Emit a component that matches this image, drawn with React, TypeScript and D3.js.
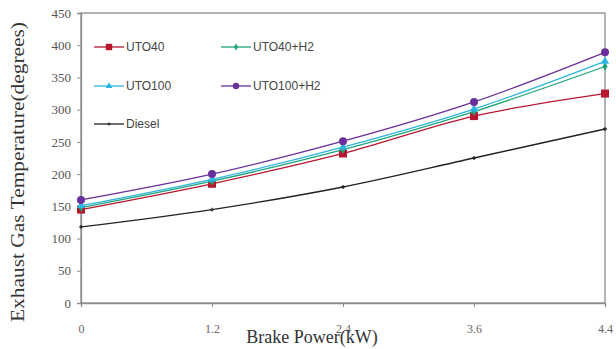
import { useEffect, useRef } from 'react';
import * as d3 from 'd3';

const categories = ['0', '1.2', '2.4', '3.6', '4.4'];
const yTicks = [0, 50, 100, 150, 200, 250, 300, 350, 400, 450];

const uto40 = [145, 185, 232, 290, 325];
const uto40h2 = [148, 189, 238, 297, 367];
const uto100 = [151, 192, 242, 301, 375];
const uto100h2 = [160, 200, 251, 312, 389];
const diesel = [118, 145, 180, 225, 270];

const series = [
  { name: 'UTO40', values: uto40, color: '#b8162e', marker: 'square' },
  { name: 'UTO40+H2', values: uto40h2, color: '#1fa37c', marker: 'diamond' },
  { name: 'UTO100', values: uto100, color: '#2cb5df', marker: 'triangle' },
  { name: 'UTO100+H2', values: uto100h2, color: '#6a2f9a', marker: 'circle' },
  { name: 'Diesel', values: diesel, color: '#222222', marker: 'cross' },
];

const W = 616;
const H = 349;

export default function App() {
  const svgRef = useRef<SVGSVGElement>(null);

  useEffect(() => {
    const svg = d3.select(svgRef.current);
    svg.selectAll('*').remove();

    const margin = { top: 13, right: 11, bottom: 46, left: 81 };
    const cw = W - margin.left - margin.right;
    const ch = H - margin.top - margin.bottom;

    svg.append('rect').attr('width', W).attr('height', H).attr('fill', '#fff');

    const g = svg.append('g').attr('transform', `translate(${margin.left},${margin.top})`);

    const x = d3.scalePoint<string>().domain(categories).range([0, cw]);
    const y = d3.scaleLinear().domain([0, 450]).range([ch, 0]);

    // frame
    g.append('rect')
      .attr('x', 0).attr('y', 0).attr('width', cw).attr('height', ch)
      .attr('fill', 'none').attr('stroke', '#8c8c8c').attr('stroke-width', 1.3);

    // y axis
    const yAxis = g.append('g').call(
      d3.axisLeft(y).tickValues(yTicks).tickSize(4).tickPadding(6)
    );
    yAxis.select('.domain').attr('stroke', '#8c8c8c').attr('stroke-width', 1.3);
    yAxis.selectAll('line').attr('stroke', '#8c8c8c');
    yAxis.selectAll('text')
      .attr('font-family', '"Liberation Serif", "Times New Roman", serif')
      .attr('font-size', 13).attr('fill', '#555');

    // x axis
    const xAxis = g.append('g').attr('transform', `translate(0,${ch})`).call(
      d3.axisBottom(x).tickSize(4).tickPadding(17)
    );
    xAxis.select('.domain').attr('stroke', '#8c8c8c').attr('stroke-width', 1.3);
    xAxis.selectAll('line').attr('stroke', '#8c8c8c');
    xAxis.selectAll('text')
      .attr('font-family', '"Liberation Serif", "Times New Roman", serif')
      .attr('font-size', 12).attr('fill', '#666');

    // axis titles
    svg.append('text')
      .attr('x', 312).attr('y', 343)
      .attr('text-anchor', 'middle')
      .attr('font-family', '"Liberation Serif", "Times New Roman", serif')
      .attr('font-size', 18).attr('fill', '#333')
      .text('Brake Power(kW)');

    svg.append('text')
      .attr('transform', `translate(24,${172}) rotate(-90)`)
      .attr('text-anchor', 'middle')
      .attr('font-family', '"Liberation Serif", "Times New Roman", serif')
      .attr('font-size', 19).attr('fill', '#333')
      .attr('textLength', 300).attr('lengthAdjust', 'spacingAndGlyphs')
      .text('Exhaust Gas Temperature(degrees)');

    const line = d3.line<number>()
      .x((_, i) => x(categories[i]) as number)
      .y(d => y(d))
      .curve(d3.curveMonotoneX);

    const drawMarker = (sel: any, type: string, color: string, cx: number, cy: number, k = 1) => {
      if (type === 'square') {
        const s = 8 * k;
        sel.append('rect').attr('x', cx - s / 2).attr('y', cy - s / 2).attr('width', s).attr('height', s).attr('fill', color);
      } else if (type === 'diamond') {
        sel.append('path').attr('d', d3.symbol(d3.symbolDiamond, 22 * k * k)()).attr('transform', `translate(${cx},${cy})`).attr('fill', color);
      } else if (type === 'triangle') {
        sel.append('path').attr('d', d3.symbol(d3.symbolTriangle, 30 * k * k)()).attr('transform', `translate(${cx},${cy})`).attr('fill', color);
      } else if (type === 'circle') {
        sel.append('circle').attr('cx', cx).attr('cy', cy).attr('r', 4 * k).attr('fill', color);
      } else {
        sel.append('path').attr('d', d3.symbol(d3.symbolCross, 8 * k * k)()).attr('transform', `translate(${cx},${cy})`).attr('fill', color);
      }
    };

    series.forEach(s => {
      g.append('path')
        .datum(s.values)
        .attr('d', line)
        .attr('fill', 'none')
        .attr('stroke', s.color)
        .attr('stroke-width', 1.3);
      s.values.forEach((v, i) => {
        drawMarker(g, s.marker, s.color, x(categories[i]) as number, y(v));
      });
    });

    // legend
    const legendPos = [
      [94, 47], [221, 47], [94, 86], [221, 86], [94, 124],
    ];
    series.forEach((s, i) => {
      const [lx, ly] = legendPos[i];
      svg.append('line')
        .attr('x1', lx).attr('x2', lx + 30).attr('y1', ly).attr('y2', ly)
        .attr('stroke', s.color).attr('stroke-width', 1.3);
      drawMarker(svg, s.marker, s.color, lx + 15, ly, 0.8);
      svg.append('text')
        .attr('x', lx + 32).attr('y', ly + 4)
        .attr('font-family', '"Liberation Sans", Arial, sans-serif')
        .attr('font-size', 12).attr('fill', '#444')
        .text(s.name);
    });
  }, []);

  return <svg ref={svgRef} width={W} height={H} style={{ display: 'block', position: 'absolute', left: 0, top: 0 }} />;
}
